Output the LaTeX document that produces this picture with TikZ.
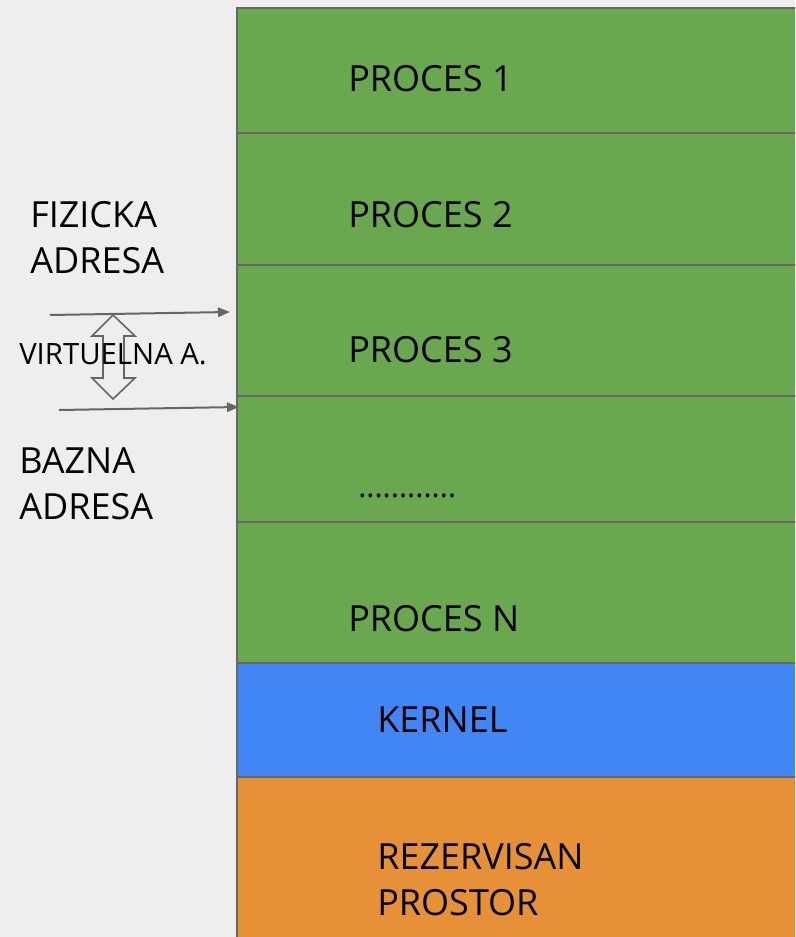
\documentclass[tikz,border=0pt]{standalone}
\usepackage{fontspec}
\setmainfont{Open Sans}
\usetikzlibrary{arrows.meta}
\definecolor{bggray}{HTML}{EEEEEE}
\definecolor{procgreen}{HTML}{6AA84F}
\definecolor{kernblue}{HTML}{4285F4}
\definecolor{rezorange}{HTML}{E69138}
\definecolor{edgegray}{HTML}{666666}
\tikzset{
  memblock/.style={draw=edgegray,line width=1.5pt},
  lbl/.style={anchor=base west,inner sep=0pt,align=left,
    font=\fontsize{27}{34.5}\selectfont},
  smalllbl/.style={anchor=base west,inner sep=0pt,font=\fontsize{22}{26}\selectfont},
  ptr/.style={draw=edgegray,line width=1.5pt,-{Triangle[length=9pt,width=7pt]}},
}
\begin{document}
\begin{tikzpicture}[x=0.75pt,y=-0.75pt]
\useasboundingbox (0,0) rectangle (795,937);
\fill[bggray] (0,0) rectangle (795,937);
\clip (0,0) rectangle (795,937);
% memory column
\foreach \t/\b/\c in {8/133/procgreen, 133/265/procgreen, 265/396/procgreen,
    396/522/procgreen, 522/663/procgreen, 663/777/kernblue, 777/945/rezorange}
  \filldraw[memblock,fill=\c] (237,\t) rectangle (805,\b) ;
% block labels (multi-line ones sit on their last baseline)
\foreach \y/\l in {92/PROCES 1, 228/PROCES 2, 362/PROCES 3, 631/PROCES N}
  \node[lbl] at (348,\y) {\l} ;
\node[lbl,font=\fontsize{23}{28}\selectfont] (dots) at (358,497) {............} ;
\node[lbl] (kernel) at (377,732) {KERNEL} ;
\node[lbl] (rez) at (377,915) {REZERVISAN\\PROSTOR} ;
% addresses
\node[lbl] (fiz) at (30,274) {FIZICKA\\ADRESA} ;
\node[lbl] (baz) at (19,519) {BAZNA\\ADRESA} ;
\coordinate (fizfrom) at (50,315) ;
\coordinate (fizto) at (230,312) ;
\coordinate (bazfrom) at (59,410) ;
\coordinate (bazto) at (239,407) ;
\draw[ptr] (fizfrom) -- (fizto) ;
\draw[ptr] (bazfrom) -- (bazto) ;
\draw[edgegray,line width=1.2pt,line join=miter]
  (113,315) -- (135,336) -- (124,336) -- (124,378) -- (135,378) -- (113,399)
  -- (92,378) -- (103,378) -- (103,336) -- (92,336) -- cycle ;
\node[smalllbl] (virt) at (19,364) {VIRTUELNA A.} ;
\end{tikzpicture}
\end{document}
